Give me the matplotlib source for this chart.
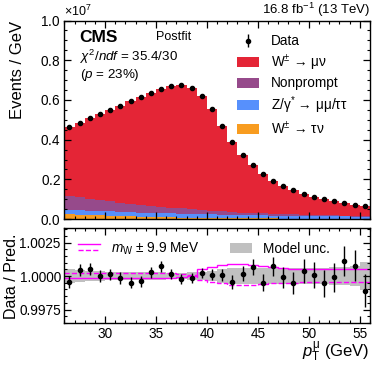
import numpy as np
import matplotlib
matplotlib.use("Agg")
import matplotlib.pyplot as plt
from matplotlib.patches import Patch
from matplotlib.lines import Line2D
from matplotlib.legend_handler import HandlerBase
from matplotlib.ticker import MultipleLocator, AutoMinorLocator, ScalarFormatter

plt.rcParams['font.family'] = ['Liberation Sans', 'DejaVu Sans']
plt.rcParams['mathtext.fontset'] = 'custom'
plt.rcParams['mathtext.rm'] = 'Liberation Sans'
plt.rcParams['mathtext.it'] = 'Liberation Sans:italic'
plt.rcParams['mathtext.bf'] = 'Liberation Sans:bold'

# ---------------- data (top panel values in units of 1e7 events / GeV) ----------------
bin_edges = np.arange(26, 57, 1)

data = [0.466, 0.486, 0.508, 0.530, 0.551, 0.570, 0.595, 0.614, 0.634, 0.653,
        0.668, 0.673, 0.658, 0.618, 0.553, 0.471, 0.388, 0.324, 0.271, 0.229,
        0.194, 0.167, 0.145, 0.128, 0.113, 0.099, 0.089, 0.081, 0.072, 0.066]

w_munu = [0.351, 0.377, 0.406, 0.435, 0.462, 0.487, 0.517, 0.543, 0.567, 0.590,
          0.610, 0.619, 0.609, 0.572, 0.5115, 0.432, 0.3525, 0.291, 0.2403, 0.1996,
          0.1669, 0.1412, 0.1214, 0.1056, 0.0918, 0.079, 0.0701, 0.0632, 0.0553, 0.0494]

nonprompt = [0.068, 0.064, 0.059, 0.054, 0.050, 0.046, 0.042, 0.038, 0.035, 0.032,
             0.029, 0.026, 0.023, 0.021, 0.018, 0.016, 0.014, 0.012, 0.011, 0.010,
             0.009, 0.008, 0.007, 0.006, 0.006, 0.005, 0.005, 0.004, 0.004, 0.004]

z_mumu = [0.022, 0.022, 0.022, 0.022, 0.022, 0.022, 0.022, 0.021, 0.021, 0.021,
          0.020, 0.020, 0.019, 0.019, 0.018, 0.018, 0.017, 0.017, 0.016, 0.016,
          0.015, 0.015, 0.014, 0.014, 0.013, 0.013, 0.012, 0.012, 0.011, 0.011]

w_taunu = [0.025, 0.023, 0.021, 0.019, 0.017, 0.015, 0.014, 0.012, 0.011, 0.010,
           0.009, 0.008, 0.007, 0.006, 0.0055, 0.005, 0.0045, 0.004, 0.0037, 0.0034,
           0.0031, 0.0028, 0.0026, 0.0024, 0.0022, 0.002, 0.0019, 0.0018, 0.0017, 0.0016]

# ---------------- ratio panel ----------------
ratio = [0.99957, 1.00045, 1.00055, 1.00000, 1.00013, 0.99985, 0.99950, 0.99960, 1.00028, 1.00073,
         1.00017, 0.99977, 0.99985, 1.00023, 1.00010, 1.00008, 0.99955, 1.00017, 1.00068, 0.99952,
         1.00073, 0.99990, 0.99947, 1.00040, 1.00008, 0.99945, 0.99990, 1.00115, 1.00078, 0.99890]

ratio_err = [0.00046, 0.00045, 0.00044, 0.00043, 0.00043, 0.00042, 0.00041, 0.00040, 0.00040, 0.00039,
             0.00039, 0.00039, 0.00039, 0.00040, 0.00043, 0.00046, 0.00051, 0.00056, 0.00061, 0.00066,
             0.00072, 0.00077, 0.00083, 0.00088, 0.00094, 0.00100, 0.00106, 0.00111, 0.00118, 0.00123]

model_unc = [0.00050, 0.00045, 0.00040, 0.00035, 0.00030, 0.00030, 0.00030, 0.00030, 0.00030, 0.00030,
             0.00025, 0.00025, 0.00030, 0.00030, 0.00040, 0.00050, 0.00060, 0.00060, 0.00060, 0.00060,
             0.00060, 0.00060, 0.00060, 0.00060, 0.00060, 0.00060, 0.00070, 0.00070, 0.00075, 0.00105]

mw_up = [0.99983, 0.99983, 0.99983, 0.99983, 0.99983, 0.99983, 0.99983, 0.99983, 0.99983, 0.99983,
         0.99988, 0.99992, 0.99997, 1.00050, 1.00070, 1.00080, 1.00090, 1.00090, 1.00085, 1.00075,
         1.00070, 1.00060, 1.00055, 1.00053, 1.00052, 1.00050, 1.00050, 1.00050, 1.00050, 1.00050]

mw_down = [1.00025, 1.00025, 1.00025, 1.00025, 1.00025, 1.00025, 1.00025, 1.00025, 1.00025, 1.00025,
           1.00020, 1.00012, 1.00005, 0.99970, 0.99955, 0.99950, 0.99935, 0.99930, 0.99930, 0.99940,
           0.99948, 0.99950, 0.99952, 0.99953, 0.99954, 0.99955, 0.99955, 0.99955, 0.99955, 0.99955]

SCALE = 1e7
col_wmu = '#e42536'
col_np = '#964a8b'
col_z = '#5790fc'
col_wtau = '#f89c20'
col_mw = '#ff00ff'
col_unc = '#c0c0c0'

fig = plt.figure(figsize=(3.74, 3.67), dpi=100)
ax = fig.add_axes([0.172, 0.403, 0.817, 0.541])
rax = fig.add_axes([0.172, 0.119, 0.817, 0.259])

centers = 0.5 * (bin_edges[:-1] + bin_edges[1:])

# stacked histogram (bottom to top: W->taunu, Z, nonprompt, W->munu)
stack = [(w_taunu, col_wtau), (z_mumu, col_z), (nonprompt, col_np), (w_munu, col_wmu)]
base = np.zeros(len(centers))
for vals, c in stack:
    v = np.asarray(vals) * SCALE
    ax.stairs(base + v, bin_edges, baseline=base, fill=True, color=c, lw=0)
    base = base + v

ax.errorbar(centers, np.asarray(data) * SCALE, yerr=np.sqrt(np.asarray(data) * SCALE),
            fmt='o', color='black', ms=3, lw=1)

ax.set_xlim(26, 56)
ax.set_ylim(0, 1.0e7)
ax.yaxis.set_major_locator(MultipleLocator(0.2e7))
ax.yaxis.set_minor_locator(AutoMinorLocator(4))
fmt = ScalarFormatter(useMathText=True)
fmt.set_powerlimits((0, 0))
ax.yaxis.set_major_formatter(fmt)
ax.yaxis.get_offset_text().set_fontsize(9)
ax.set_ylabel('Events / GeV', fontsize=12, loc='top')
ax.yaxis.set_label_coords(-0.13, 1.0)

for a in (ax, rax):
    a.xaxis.set_major_locator(MultipleLocator(5))
    a.xaxis.set_minor_locator(MultipleLocator(1))
    a.tick_params(which='both', direction='in', top=True, right=True, labelsize=9.8, pad=2.5)
    a.tick_params(which='major', length=5, width=0.9)
    a.tick_params(which='minor', length=2.5, width=0.8)
    for s in a.spines.values():
        s.set_linewidth(1.0)
ax.tick_params(labelbottom=False)

# texts
ax.text(0.05, 0.915, 'CMS', transform=ax.transAxes, fontsize=12.5, fontweight='bold', va='center')
ax.text(0.30, 0.917, 'Postfit', transform=ax.transAxes, fontsize=9, va='center')
ax.text(0.05, 0.818, r'$\chi^{2}/ndf$ = 35.4/30', transform=ax.transAxes, fontsize=9.6, va='center')
ax.text(0.05, 0.724, r'($p$ = 23%)', transform=ax.transAxes, fontsize=9.6, va='center')
ax.text(1.0, 1.006, r'16.8 fb$^{-1}$ (13 TeV)', transform=ax.transAxes, fontsize=9.5,
        ha='right', va='bottom')

handles = [
    ax.errorbar([], [], yerr=[], fmt='o', color='black', ms=3, lw=1),
    Patch(color=col_wmu, lw=0),
    Patch(color=col_np, lw=0),
    Patch(color=col_z, lw=0),
    Patch(color=col_wtau, lw=0),
]
labels = [r'Data', r'W$^{\pm}$ → μν', 'Nonprompt', r'Z/γ$^{*}$ → μμ/ττ', r'W$^{\pm}$ → τν']
ax.legend(handles, labels, loc='upper left', bbox_to_anchor=(0.565, 0.93), frameon=False,
          fontsize=9.8, handlelength=1.65, handleheight=0.75, handletextpad=0.85,
          labelspacing=0.28, borderaxespad=0.0, borderpad=0.0)

# ratio panel
ones = np.ones(len(model_unc))
rax.stairs(ones + np.asarray(model_unc), bin_edges, baseline=ones - np.asarray(model_unc),
           fill=True, color=col_unc, lw=0)
rax.stairs(mw_up, bin_edges, color=col_mw, lw=1.0, baseline=None)
rax.stairs(mw_down, bin_edges, color=col_mw, lw=1.0, ls='--', baseline=None)
rax.errorbar(centers, ratio, yerr=ratio_err, fmt='o', color='black', ms=3, lw=1)

rax.set_xlim(26, 56)
rax.set_ylim(0.99648, 1.00356)
rax.set_yticks([0.9975, 1.0, 1.0025])
rax.set_yticklabels(['0.9975', '1.0000', '1.0025'])
rax.yaxis.set_minor_locator(MultipleLocator(0.0005))
rax.set_ylabel('Data / Pred.', fontsize=11.5)
rax.yaxis.set_label_coords(-0.147, 0.5)
rax.set_xlabel(r'$p_{\mathrm{T}}^{\mathrm{μ}}$ (GeV)', fontsize=12, loc='right')
rax.xaxis.set_label_coords(1.0, -0.17)


class TwoLineHandler(HandlerBase):
    def create_artists(self, legend, orig_handle, xdescent, ydescent, width, height, fontsize, trans):
        l1 = Line2D([-xdescent, -xdescent + width], [height * 0.8, height * 0.8],
                    color=col_mw, lw=1.0, transform=trans)
        l2 = Line2D([-xdescent, -xdescent + width], [height * 0.3, height * 0.3],
                    color=col_mw, lw=1.0, ls='--', transform=trans)
        return [l1, l2]


mw_handle = object()
rax.legend([mw_handle, Patch(color=col_unc, lw=0)],
           [r'$m_{\mathrm{W}}$ ± 9.9 MeV', 'Model unc.'],
           handler_map={mw_handle: TwoLineHandler()},
           loc='upper left', bbox_to_anchor=(0.045, 0.87), ncol=2, frameon=False,
           fontsize=9.8, handlelength=1.6, handleheight=0.8, handletextpad=0.85,
           columnspacing=2.2, borderaxespad=0.0, borderpad=0.0)

fig.savefig('out.png', dpi=100)
